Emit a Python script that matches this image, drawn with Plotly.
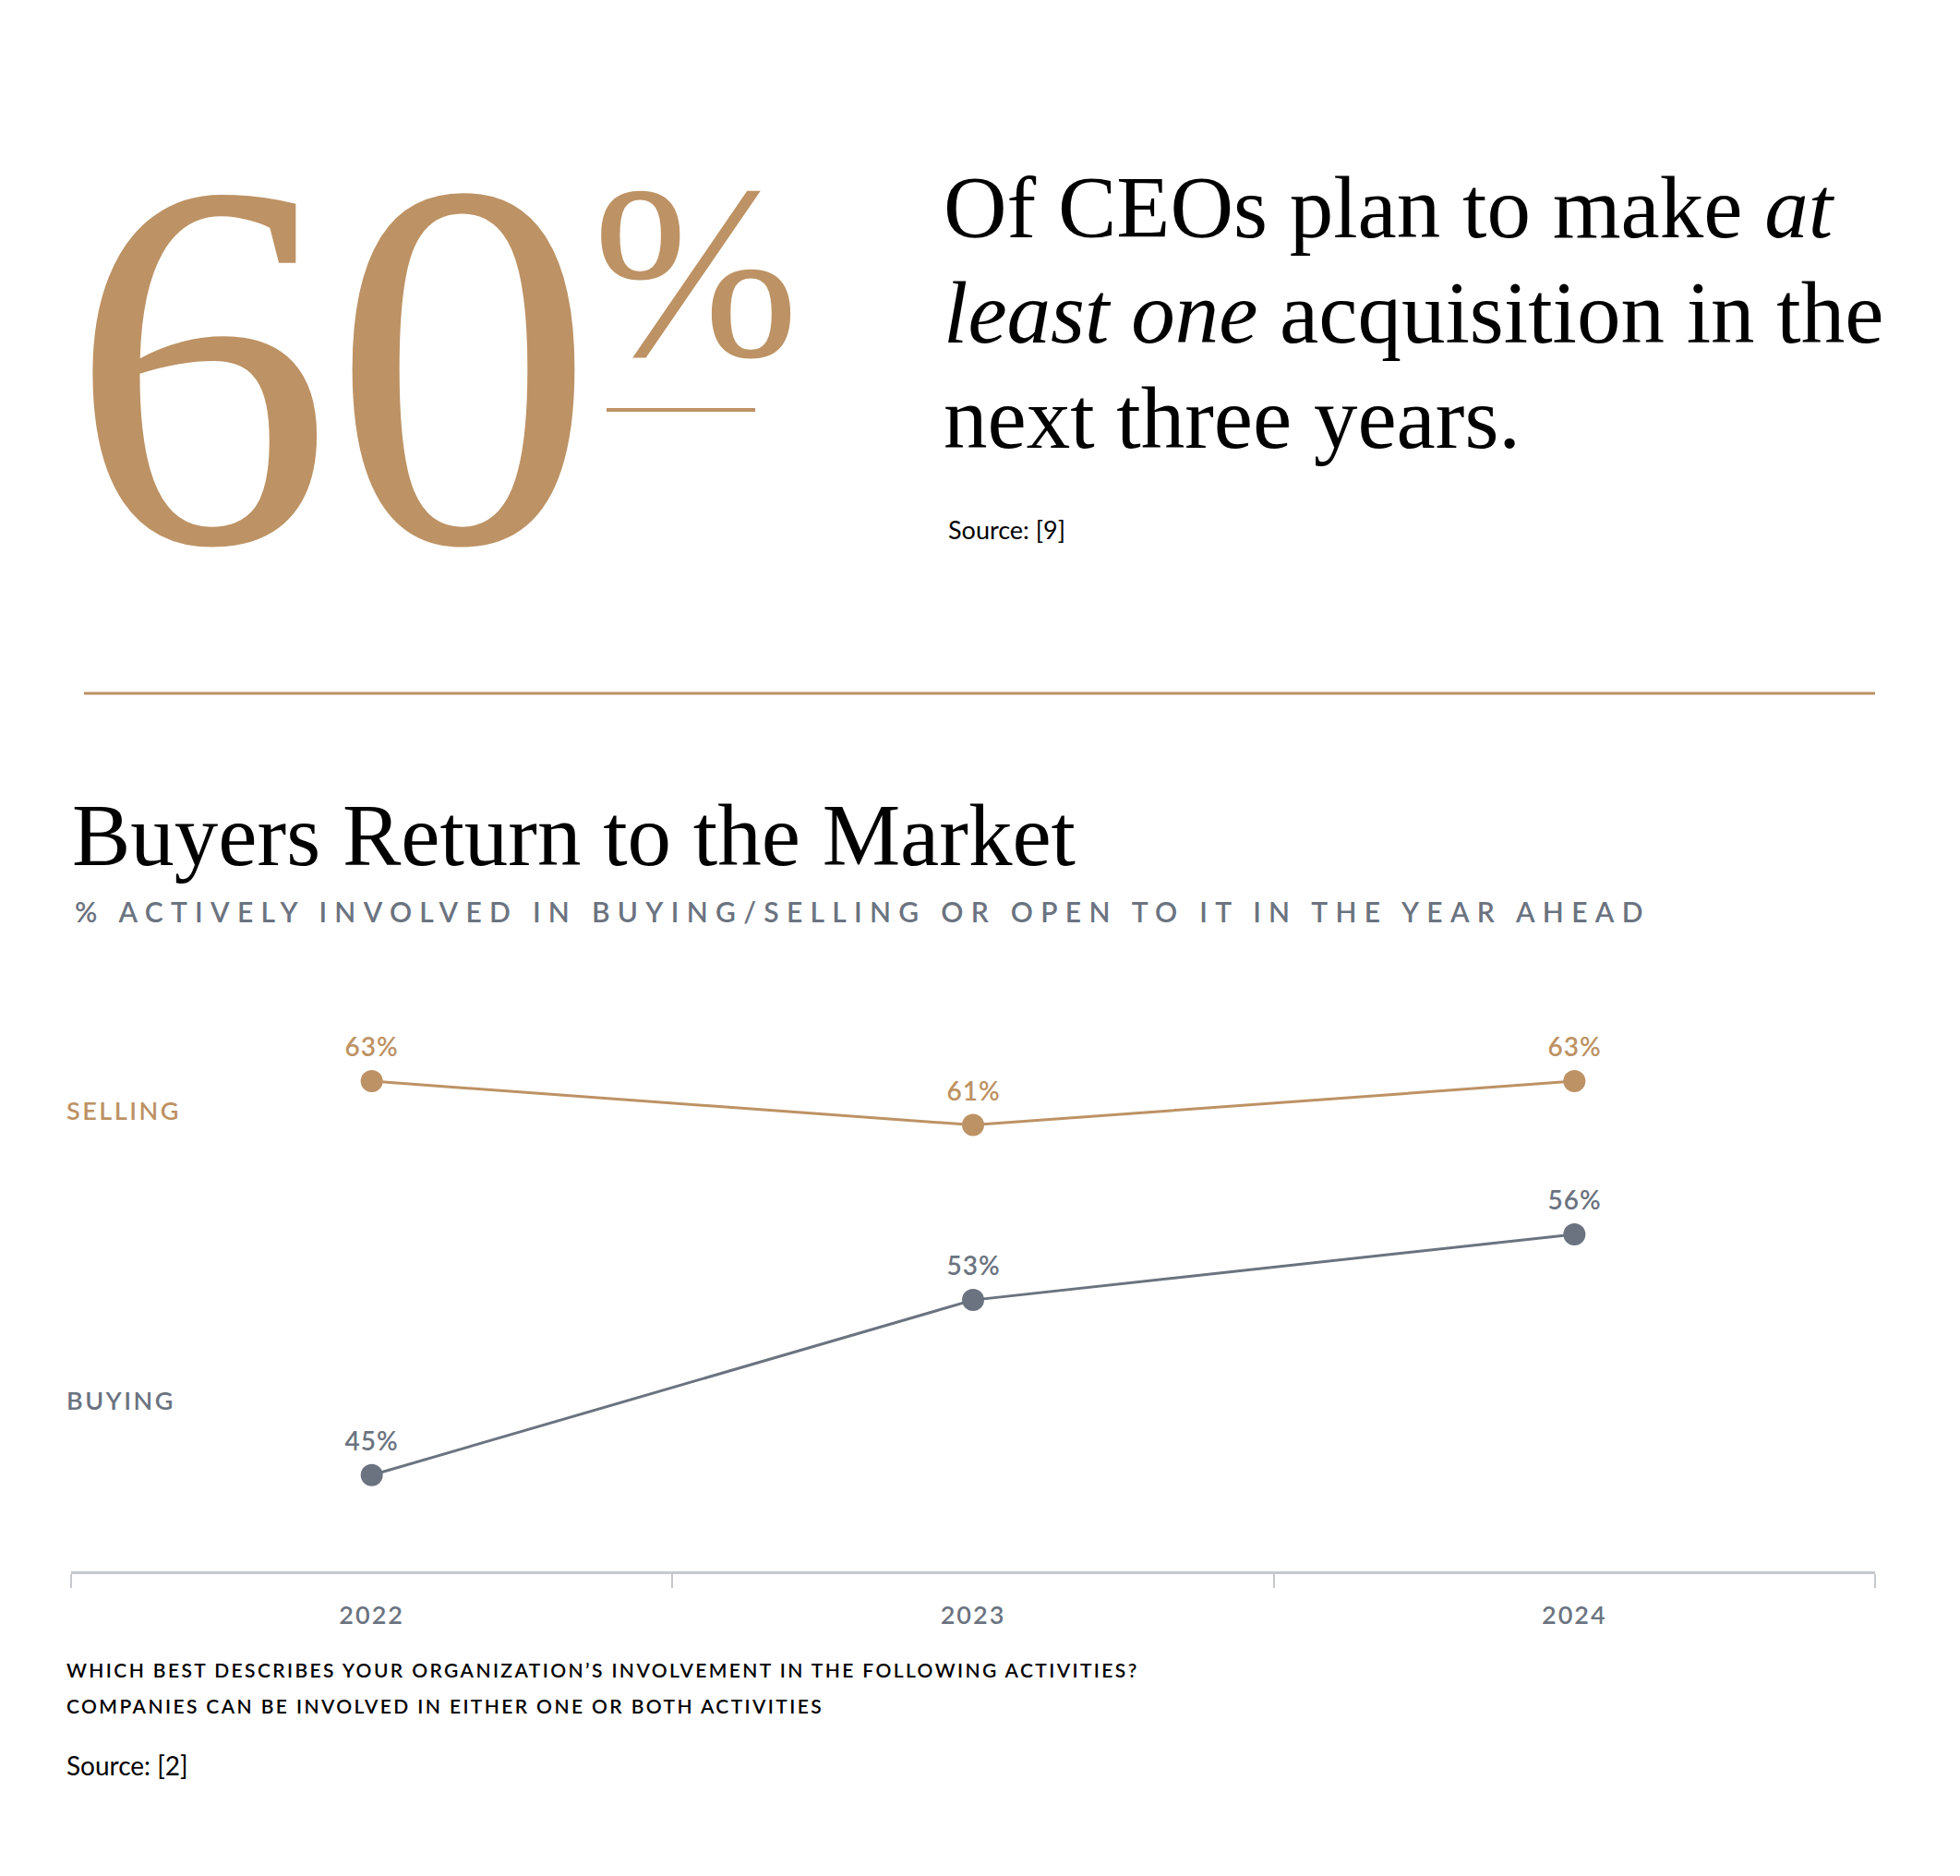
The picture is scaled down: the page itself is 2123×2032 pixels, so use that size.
import plotly.graph_objects as go

# data
years = ["2022", "2023", "2024"]
selling = [63, 61, 63]
buying = [45, 53, 56]
series_names = ["SELLING", "BUYING"]
big_stat = "60"
headline_lines = ["Of CEOs plan to make <i>at</i>",
                  "<i>least one</i> acquisition in the",
                  "next three years."]
title = "Buyers Return to the Market"
subtitle = "% ACTIVELY INVOLVED IN BUYING/SELLING OR OPEN TO IT IN THE YEAR AHEAD"
question = ["WHICH BEST DESCRIBES YOUR ORGANIZATION\u2019S INVOLVEMENT IN THE FOLLOWING ACTIVITIES?",
            "COMPANIES CAN BE INVOLVED IN EITHER ONE OR BOTH ACTIVITIES"]
source_top = "Source: [9]"
source_bottom = "Source: [2]"

GOLD = "#BD9264"
SLATE = "#6B7380"
AXIS = "#C5C8CC"
SERIF = "Liberation Serif"
SANS = "Lato"

# page body has an 8px margin, so work in page pixels and convert
OFF = 8
W, H = 2123 - OFF, 2032 - OFF
PL, PR, PT, PB = 77, 2031, 1100, 1702   # plot area in page pixels
L, R, T, B = PL - OFF, W - (PR - OFF), PT - OFF, H - (PB - OFF)

def px(x):
    return (x - PL) / (PR - PL)

def py(y):
    return (PB - y) / (PB - PT)

fig = go.Figure()
fig.add_trace(go.Scatter(x=years, y=selling, mode="lines+markers", name="SELLING",
                         line=dict(color=GOLD, width=3), marker=dict(size=24, color=GOLD),
                         cliponaxis=False, showlegend=False))
fig.add_trace(go.Scatter(x=years, y=buying, mode="lines+markers", name="BUYING",
                         line=dict(color=SLATE, width=3), marker=dict(size=24, color=SLATE),
                         cliponaxis=False, showlegend=False))

ann = []
for vals, col in [(selling, GOLD), (buying, SLATE)]:
    for i, v in enumerate(vals):
        ann.append(dict(x=i, y=v, xref="x", yref="y", text=f"{v}%", showarrow=False, yshift=38,
                        font=dict(family=SANS, size=28, color=col, weight=600)))

def txt(text, x, y, size, color, family=SANS, **kw):
    ann.append(dict(xref="paper", yref="paper", x=px(x), y=py(y), text=text,
                    showarrow=False, xanchor="left", yanchor="middle", align="left",
                    font=dict(family=family, size=size, color=color, **kw)))

txt(big_stat, 74, 396, 568, GOLD, family=SERIF)
txt("%", 640, 295, 268, GOLD, family=SERIF)
for i, line in enumerate(headline_lines):
    txt(line, 1020, 225 + i * 114, 95, "#000000", family=SERIF)
txt(source_top, 1025, 573, 27, "#000000")
txt(title, 76, 905, 95, "#000000", family=SERIF)
txt(subtitle, 79, 987, 30, SLATE, weight=600)
txt(series_names[0], 70, 1202, 27, GOLD, weight=600)
txt(series_names[1], 70, 1516, 27, SLATE, weight=600)
txt(question[0], 70, 1808, 21, "#000000", weight=600)
txt(question[1], 70, 1847, 21, "#000000", weight=600)
txt(source_bottom, 70, 1912, 28, "#000000")

shapes = [
    dict(type="line", xref="paper", yref="paper", x0=px(657), x1=px(818), y0=py(444), y1=py(444),
         line=dict(color=GOLD, width=4)),
    dict(type="line", xref="paper", yref="paper", x0=px(91), x1=px(2031), y0=py(751), y1=py(751),
         line=dict(color=GOLD, width=3)),
]

fig.update_layout(
    width=W, height=H,
    margin=dict(l=L, r=R, t=T, b=B),
    paper_bgcolor="white", plot_bgcolor="white",
    annotations=ann, shapes=shapes,
    xaxis=dict(type="category", range=[-0.5, 2.5], tickson="boundaries", ticks="outside",
               ticklen=15, tickwidth=2, tickcolor=AXIS, showline=True, linecolor=AXIS,
               linewidth=3, showgrid=False, zeroline=False, ticklabelstandoff=22,
               tickfont=dict(family=SANS, size=27, color=SLATE, weight=600)),
    yaxis=dict(range=[40.6, 66.0], visible=False),
)

post = """
var gd = document.getElementById('{plot_id}');
gd.querySelectorAll('.annotation-text').forEach(function(t){
  var s = t.textContent;
  if (s.indexOf('% ACTIVELY') === 0) { t.style.letterSpacing = '8.3px'; }
  else if (s === 'SELLING' || s === 'BUYING') { t.style.letterSpacing = '2.5px'; }
  else if (s.indexOf('WHICH') === 0 || s.indexOf('COMPANIES') === 0) { t.style.letterSpacing = '2.4px'; }
  else if (/^[0-9]+%$/.test(s)) { t.style.letterSpacing = '1px'; }
});
gd.querySelectorAll('.xtick text').forEach(function(t){ t.style.letterSpacing = '2px'; });
"""
fig.write_html("out.html", post_script=post)
